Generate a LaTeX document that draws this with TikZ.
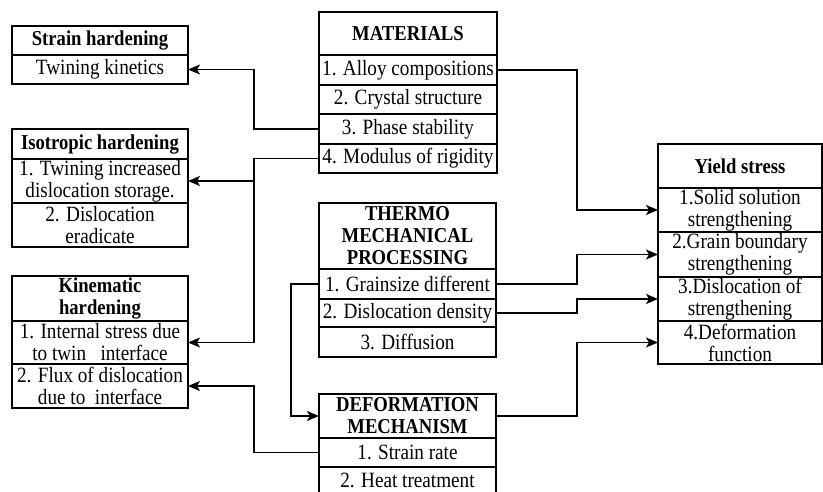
\documentclass[tikz,border=0pt]{standalone}
\usepackage{fontspec}
\setmainfont{Liberation Serif}[FakeStretch=0.88]
\usetikzlibrary{arrows.meta}
\begin{document}
\begin{tikzpicture}[x=1pt,y=-1pt,
  cell/.style={draw=black, line width=1.3pt, inner sep=0pt, outer sep=0pt, align=center,
    font=\fontsize{21.8}{22}\selectfont, text=black},
  head/.style={cell, font=\fontsize{21.2}{22}\selectfont\bfseries},
  arr/.style={line width=1.4pt, -{Stealth[length=12pt,width=10pt,inset=3pt]}}]
\useasboundingbox (0,0) rectangle (823,492);
% Strain hardening
\node[head, minimum width=176pt, minimum height=29pt] (sh0) at (100,40.5) {Strain hardening};
\node[cell, minimum width=176pt, minimum height=29pt] (sh1) at (100,69.5) {Twining kinetics};
% Isotropic hardening
\node[head, minimum width=176pt, minimum height=30pt] (ih0) at (100,144) {Isotropic hardening};
\node[cell, minimum width=176pt, minimum height=44pt] (ih1) at (100,181) {1. Twining increased\\dislocation storage.};
\node[cell, minimum width=176pt, minimum height=44pt] (ih2) at (100,225) {2. Dislocation\\eradicate};
% Kinematic hardening
\node[head, minimum width=176pt, minimum height=45pt] (kh0) at (100,298.5) {Kinematic\\hardening};
\node[cell, minimum width=176pt, minimum height=43pt] (kh1) at (100,342.5) {1. Internal stress due\\to twin~~~interface};
\node[cell, minimum width=176pt, minimum height=44pt] (kh2) at (100,386) {2. Flux of dislocation\\due to~~interface};
% Materials
\node[head, minimum width=178pt, minimum height=43pt] (m0) at (408,33.5) {MATERIALS};
\node[cell, minimum width=178pt, minimum height=30pt] (m1) at (408,70) {1. Alloy compositions};
\node[cell, minimum width=178pt, minimum height=29pt] (m2) at (408,99.5) {2. Crystal structure};
\node[cell, minimum width=178pt, minimum height=30pt] (m3) at (408,129) {3. Phase stability};
\node[cell, minimum width=178pt, minimum height=29pt] (m4) at (408,158.5) {4. Modulus of rigidity};
% Thermo mechanical processing
\node[head, minimum width=177pt, minimum height=66pt] (t0) at (407.5,236) {THERMO\\MECHANICAL\\PROCESSING};
\node[cell, minimum width=177pt, minimum height=30pt] (t1) at (407.5,284) {1. Grainsize different};
\node[cell, minimum width=177pt, minimum height=28pt] (t2) at (407.5,313) {2. Dislocation density};
\node[cell, minimum width=177pt, minimum height=30pt] (t3) at (407.5,342) {3. Diffusion};
% Deformation mechanism
\node[head, minimum width=177pt, minimum height=44pt] (d0) at (407.5,416) {DEFORMATION\\MECHANISM};
\node[cell, minimum width=177pt, minimum height=29pt] (d1) at (407.5,452.5) {1. Strain rate};
\node[cell, minimum width=177pt, minimum height=27pt] (d2) at (407.5,480.5) {2. Heat treatment};
% Yield stress
\node[head, minimum width=164pt, minimum height=44pt] (y0) at (740,166) {Yield stress};
\node[cell, minimum width=164pt, minimum height=44pt] (y1) at (740,210) {1.Solid solution\\strengthening};
\node[cell, minimum width=164pt, minimum height=45pt] (y2) at (740,254.5) {2.Grain boundary\\strengthening};
\node[cell, minimum width=164pt, minimum height=44pt] (y3) at (740,299) {3.Dislocation of\\strengthening};
\node[cell, minimum width=164pt, minimum height=43pt] (y4) at (740,342.5) {4.Deformation\\function};
% junction columns
\coordinate (xl) at (254,0);
\coordinate (xm) at (291,0);
\coordinate (xr) at (577,0);
% connectors
\draw[arr] (m3.west) -- (m3.west -| xl) |- (sh1.east);
\draw[arr] (m4.west) -- (m4.west -| xl) |- (kh1.east);
\draw[arr] (ih1.east -| xl) -- (ih1.east);
\draw[arr] (d1.west) -- (d1.west -| xl) |- (kh2.east);
\draw[arr] (t1.west) -- (t1.west -| xm) |- (d0.west);
\draw[arr] (m1.east) -- (m1.east -| xr) |- (y1.west);
\draw[arr] (t1.east) -- (t1.east -| xr) |- (y2.west);
\draw[arr] (t2.east) -- (t2.east -| xr) |- (y3.west);
\draw[arr] (d0.east) -- (d0.east -| xr) |- (y4.west);
\end{tikzpicture}
\end{document}
